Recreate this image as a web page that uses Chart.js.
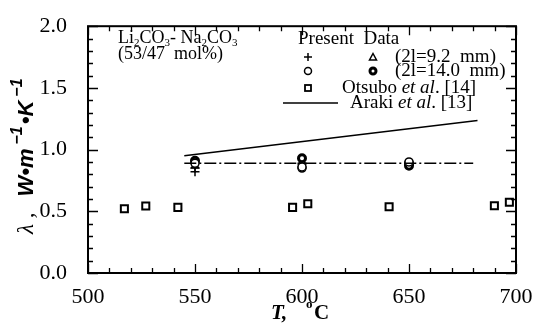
<!DOCTYPE html>
<html>
<head>
<meta charset="utf-8">
<script src="https://cdn.jsdelivr.net/npm/chart.js@4.4.1/dist/chart.umd.min.js"></script>
<style>
  html, body { margin: 0; padding: 0; background: #fff; }
  #wrap { width: 536px; height: 331px; }
</style>
</head>
<body>
<div id="wrap"><canvas id="c" width="536" height="331"></canvas></div>
<script>
// data
const plus92 = [[550, 0.82], [550, 0.85], [600, 0.89], [650, 0.88]];
const tri92 = [[550, 0.87], [600, 0.90], [650, 0.89]];
const open140 = [[550, 0.89], [600, 0.85], [600, 0.86], [650, 0.90]];
const filled140 = [[550, 0.91], [600, 0.93], [650, 0.89], [650, 0.87]];
const otsubo = [[517, 0.52], [527, 0.543], [542, 0.532], [595.6, 0.532], [602.7, 0.561], [640.7, 0.537], [689.9, 0.545], [696.9, 0.574]];
const araki = [[545, 0.95], [682, 1.235]];
const fitLine = [[545, 0.89], [680, 0.89]];
const xTicks = [500, 550, 600, 650, 700];
const yTicks = [0.0, 0.5, 1.0, 1.5, 2.0];

const SERIF = '"Liberation Serif", "DejaVu Serif", serif';
const SANS = '"Liberation Sans", Arial, sans-serif';
const pts = a => a.map(([x, y]) => ({ x, y }));

const frame = {
  id: 'frame',
  afterDraw(chart) {
    const { ctx, chartArea: a, scales: { x, y } } = chart;
    ctx.save();
    ctx.strokeStyle = '#000';
    // inward ticks on all four sides
    ctx.lineWidth = 1.3;
    for (let v = 500; v <= 700; v += 10) {
      const px = Math.round(x.getPixelForValue(v)) + 0.5;
      const len = v % 50 === 0 ? 9 : 5;
      ctx.beginPath();
      ctx.moveTo(px, a.bottom); ctx.lineTo(px, a.bottom - len);
      ctx.moveTo(px, a.top); ctx.lineTo(px, a.top + len);
      ctx.stroke();
    }
    for (let i = 0; i <= 20; i++) {
      const v = i / 10;
      const py = Math.round(y.getPixelForValue(v)) + 0.5;
      const len = i % 5 === 0 ? 10 : 5;
      ctx.beginPath();
      ctx.moveTo(a.left, py); ctx.lineTo(a.left + len, py);
      ctx.moveTo(a.right, py); ctx.lineTo(a.right - len, py);
      ctx.stroke();
    }
    ctx.lineWidth = 2;
    ctx.strokeRect(a.left, a.top, a.right - a.left, a.bottom - a.top);

    // axis titles
    ctx.fillStyle = '#000';
    ctx.textBaseline = 'alphabetic';
    ctx.font = 'bold italic 21px ' + SERIF;
    ctx.fillText('T,', 271, 319);
    ctx.font = 'bold 13px ' + SERIF;
    ctx.fillText('o', 306, 308);
    ctx.font = 'bold 21px ' + SERIF;
    ctx.fillText('C', 314, 319);

    ctx.save();
    ctx.translate(33, 234);
    ctx.rotate(-Math.PI / 2);
    let cx = 0;
    const put = (t, font, dy) => {
      ctx.font = font;
      ctx.fillText(t, cx, dy || 0);
      cx += ctx.measureText(t).width;
    };
    put('\u03bb ,', 'italic 23px ' + SERIF);
    cx += 16;
    put('W\u2022m', 'bold italic 22px ' + SANS);
    cx += 4;
    put('\u22121', 'bold italic 16px ' + SANS, -11);
    cx += 2;
    put('\u2022K', 'bold italic 22px ' + SANS);
    cx += 4;
    put('\u22121', 'bold italic 16px ' + SANS, -11);
    ctx.restore();

    // annotation text
    const line = (parts, x0, yb) => {
      let px = x0;
      for (const [t, font, dy] of parts) {
        ctx.font = font;
        ctx.fillText(t, px, yb + (dy || 0));
        px += ctx.measureText(t).width;
      }
    };
    const f = '19px ' + SERIF, fs = '11px ' + SERIF, fi = 'italic 19px ' + SERIF;
    const f2 = '18px ' + SERIF;
    line([['Li', f2], ['2', fs, 3], ['CO', f2], ['3', fs, 3], ['- Na', f2], ['2', fs, 3], ['CO', f2], ['3', fs, 3]], 118, 43);
    line([['(53/47  mol%)', f2]], 118, 59);
    line([['Present  Data', f]], 298, 44);
    line([['(2l=9.2  mm)', f]], 395, 62);
    line([['(2l=14.0  mm)', f]], 395, 76);
    line([['Otsubo ', f], ['et al', fi], ['. [14]', f]], 342, 93);
    line([['Araki ', f], ['et al', fi], ['. [13]', f]], 350, 108);

    // legend symbols
    ctx.lineWidth = 1.5;
    ctx.beginPath();
    ctx.moveTo(304, 57); ctx.lineTo(312, 57);
    ctx.moveTo(308, 53); ctx.lineTo(308, 61);
    ctx.stroke();
    ctx.beginPath();
    ctx.moveTo(373, 53.5); ctx.lineTo(376.5, 60); ctx.lineTo(369.5, 60); ctx.closePath();
    ctx.stroke();
    ctx.beginPath(); ctx.arc(308, 71, 3.5, 0, Math.PI * 2); ctx.stroke();
    ctx.lineWidth = 3;
    ctx.beginPath(); ctx.arc(373, 71, 3, 0, Math.PI * 2); ctx.stroke();
    ctx.lineWidth = 1.8;
    ctx.strokeRect(305, 85, 6, 6);
    ctx.lineWidth = 1.5;
    ctx.beginPath(); ctx.moveTo(283, 103); ctx.lineTo(338, 103); ctx.stroke();
    ctx.restore();
  }
};

const scatterSet = (data, style, radius, bw, fill) => ({
  type: 'scatter',
  data: pts(data),
  pointStyle: style,
  pointRadius: radius,
  pointBorderWidth: bw,
  pointBorderColor: '#000',
  pointBackgroundColor: fill || '#fff',
  showLine: false
});

new Chart(document.getElementById('c'), {
  type: 'scatter',
  data: {
    datasets: [
      { type: 'line', data: pts(araki), borderColor: '#000', borderWidth: 1.5, pointRadius: 0, fill: false },
      { type: 'line', data: pts(fitLine), borderColor: '#000', borderWidth: 1.5, borderDash: [12, 3, 2, 3], pointRadius: 0, fill: false },
      scatterSet(otsubo, 'rect', 5, 2),
      scatterSet(open140, 'circle', 4, 1.5),
      scatterSet(filled140, 'circle', 3.5, 3),
      scatterSet(tri92, 'triangle', 4, 1.5),
      scatterSet(plus92, 'cross', 4.5, 1.5)
    ]
  },
  options: {
    responsive: false,
    animation: false,
    layout: { padding: { top: 20, right: 20, left: 0, bottom: 0 } },
    plugins: { legend: { display: false }, tooltip: { enabled: false } },
    scales: {
      x: {
        type: 'linear', min: 500, max: 700,
        afterBuildTicks: s => { s.ticks = xTicks.map(v => ({ value: v })); },
        afterFit: s => { s.height = 58; },
        grid: { display: false },
        border: { display: false },
        ticks: { color: '#000', padding: 3, font: { family: SERIF, size: 22 }, maxRotation: 0 }
      },
      y: {
        type: 'linear', min: 0, max: 2,
        afterBuildTicks: s => { s.ticks = yTicks.map(v => ({ value: v })); },
        afterFit: s => { s.width = 88; },
        grid: { display: false },
        border: { display: false },
        ticks: { color: '#000', padding: 13, font: { family: SERIF, size: 22 }, callback: v => v.toFixed(1) }
      }
    }
  },
  plugins: [frame]
});
</script>
</body>
</html>
